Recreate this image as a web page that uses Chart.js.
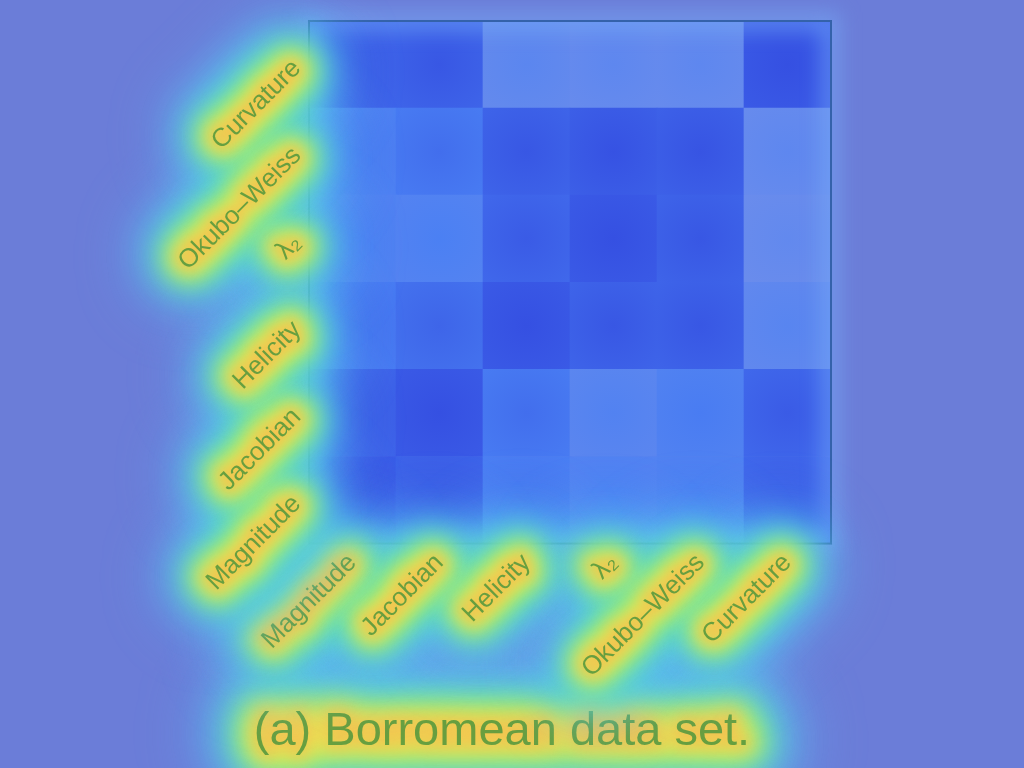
<!DOCTYPE html>
<html>
<head>
<meta charset="utf-8">
<script src="https://cdn.jsdelivr.net/npm/chart.js@4.4.1/dist/chart.umd.min.js"></script>
<style>
  html, body { margin: 0; padding: 0; background: #6b7dd8; }
  #wrap { width: 1024px; height: 768px; }
</style>
</head>
<body>
<div id="wrap"><canvas id="myChart" width="1024" height="768"></canvas></div>
<script>
// columns left to right, rows bottom to top
const colLabels = ['Magnitude', 'Jacobian', 'Helicity', 'λ₂', 'Okubo–Weiss', 'Curvature'];
const rowLabels = ['Magnitude', 'Jacobian', 'Helicity', 'λ₂', 'Okubo–Weiss', 'Curvature'];

// cell strength, 0 = pale blue, 1 = deep blue
const magnitudeRow = [0.92, 0.85, 0.55, 0.40, 0.45, 0.80];
const jacobianRow = [0.85, 0.95, 0.60, 0.30, 0.45, 0.80];
const helicityRow = [0.60, 0.70, 0.95, 0.85, 0.85, 0.20];
const lambdaRow = [0.45, 0.40, 0.80, 0.95, 0.85, 0.05];
const okuboRow = [0.50, 0.60, 0.85, 0.90, 0.88, 0.10];
const curvatureRow = [0.85, 0.85, 0.15, 0.10, 0.10, 0.95];

const titleText = '(a) Borromean data set.';

const rows = [magnitudeRow, jacobianRow, helicityRow, lambdaRow, okuboRow, curvatureRow];
const fontFamily = "'Liberation Sans', Arial, sans-serif";
const textColor = 'rgba(80, 150, 60, 0.85)';

const paleBlue = [106, 140, 236];
const midBlue = [74, 127, 243];
const deepBlue = [53, 80, 226];

const cellColor = (v) => {
  v = Math.min(1, Math.max(0, v));
  const [a, b, t] = v < 0.5 ? [paleBlue, midBlue, v / 0.5] : [midBlue, deepBlue, (v - 0.5) / 0.5];
  const c = a.map((x, i) => Math.round(x + (b[i] - x) * t));
  return `rgb(${c.join(',')})`;
};

// soft shading: a little deeper in the middle of each cell
const cellFill = (context) => {
  const { chart, datasetIndex, dataIndex } = context;
  const v = rows[datasetIndex][dataIndex];
  const { x, y } = chart.scales;
  if (!x || !y || !chart.chartArea) return cellColor(v);
  const cx = x.getPixelForValue(dataIndex);
  const cy = y.getPixelForValue(datasetIndex + 0.5);
  const r = Math.abs(x.getPixelForValue(1) - x.getPixelForValue(0)) * 0.7;
  const g = chart.ctx.createRadialGradient(cx, cy, 0, cx, cy, r);
  g.addColorStop(0, cellColor(v + 0.08));
  g.addColorStop(1, cellColor(v - 0.06));
  return g;
};

// blurred halo drawn behind text, outer ring first
const glowPasses = [
  { width: 90, blur: 28, color: 'rgba(95, 185, 245, 0.55)' },
  { width: 56, blur: 20, color: 'rgba(70, 220, 220, 0.75)' },
  { width: 36, blur: 15, color: 'rgba(140, 240, 110, 0.9)' },
  { width: 20, blur: 11, color: 'rgba(240, 232, 80, 0.95)' },
  { width: 8, blur: 7, color: 'rgba(245, 185, 80, 0.7)' }
];

const glowing = (ctx, draw, k) => function (...args) {
  glowPasses.forEach((p) => {
    ctx.save();
    ctx.filter = `blur(${p.blur * k}px)`;
    ctx.lineWidth = p.width * k;
    ctx.lineJoin = 'round';
    ctx.strokeStyle = p.color;
    ctx.fillText = function (t, x, y, w) {
      if (w === undefined) this.strokeText(t, x, y);
      else this.strokeText(t, x, y, w);
    };
    draw.apply(this, args);
    delete ctx.fillText;
    ctx.restore();
  });
  draw.apply(this, args);
};

const labelGlow = {
  id: 'labelGlow',
  beforeDraw(chart) {
    [chart.scales.x, chart.scales.y].forEach((scale) => {
      if (scale.glowWrapped) return;
      scale.drawLabels = glowing(chart.ctx, scale.drawLabels, 1);
      scale._computeLabelArea = () => undefined;
      scale.glowWrapped = true;
    });
    const title = chart.titleBlock;
    if (title && !title.glowWrapped) {
      title.draw = glowing(chart.ctx, title.draw, 1.15);
      title.glowWrapped = true;
    }
  }
};

const plotFrame = {
  id: 'plotFrame',
  afterDatasetsDraw(chart) {
    const { ctx, chartArea: a } = chart;
    ctx.save();
    ctx.filter = 'blur(10px)';
    ctx.strokeStyle = 'rgba(120, 175, 250, 0.55)';
    ctx.lineWidth = 18;
    ctx.strokeRect(a.left, a.top, a.width, a.height);
    ctx.filter = 'none';
    ctx.strokeStyle = '#3462aa';
    ctx.lineWidth = 2;
    ctx.strokeRect(a.left, a.top, a.width, a.height);
    ctx.restore();
  }
};

const datasets = rows.map((vals, r) => ({
  label: rowLabels[r],
  data: vals.map(() => [r, r + 1]),
  backgroundColor: cellFill,
  borderWidth: 0,
  barPercentage: 1,
  categoryPercentage: 1,
  grouped: false
}));

const ctx = document.getElementById('myChart').getContext('2d');
const chart = new Chart(ctx, {
  type: 'bar',
  data: { labels: colLabels, datasets },
  options: {
    responsive: false,
    animation: false,
    devicePixelRatio: 1,
    layout: { padding: { top: 21, right: 20, bottom: 8, left: 0 } },
    plugins: {
      legend: { display: false },
      tooltip: { enabled: false },
      title: {
        display: true,
        position: 'bottom',
        text: titleText,
        color: textColor,
        font: { family: fontFamily, size: 47, weight: 'normal' },
        padding: 0
      }
    },
    scales: {
      x: {
        grid: { display: false },
        border: { display: false },
        ticks: {
          autoSkip: false,
          minRotation: 45,
          maxRotation: 45,
          padding: -4,
          z: 1,
          color: textColor,
          font: { family: fontFamily, size: 26 }
        },
        afterFit: (s) => { s.height = 160; }
      },
      y: {
        type: 'linear',
        min: 0,
        max: 6,
        grid: { display: false },
        border: { display: false },
        afterBuildTicks: (s) => { s.ticks = rowLabels.map((l, i) => ({ value: i + 0.5 })); },
        ticks: {
          minRotation: 45,
          maxRotation: 45,
          padding: 4,
          z: 1,
          color: textColor,
          font: { family: fontFamily, size: 26 },
          callback: (v) => rowLabels[Math.round(v - 0.5)]
        },
        afterFit: (s) => { s.width = 309; }
      },
      y2: {
        type: 'linear',
        position: 'right',
        grid: { display: false },
        border: { display: false },
        ticks: { display: false },
        afterFit: (s) => { s.width = 173; }
      }
    }
  },
  plugins: [labelGlow, plotFrame]
});
</script>
</body>
</html>
